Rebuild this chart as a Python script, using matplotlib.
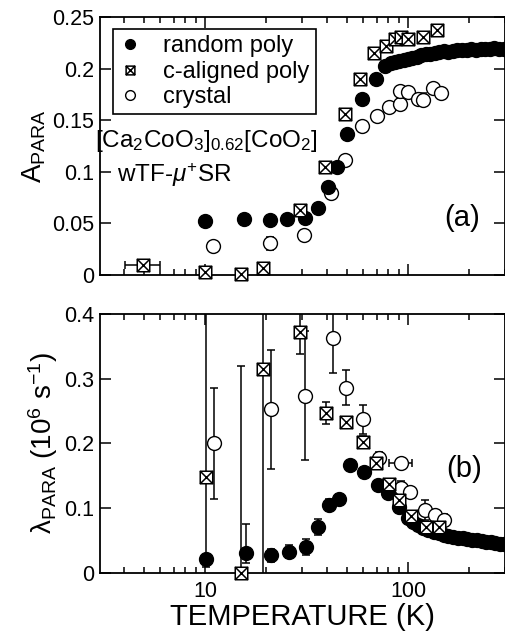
#!/usr/bin/env python3
"""A_PARA e lambda_PARA vs temperatura (wTF-muSR), dois painéis empilhados."""

import numpy as np
import matplotlib
matplotlib.use("Agg")
import matplotlib.pyplot as plt
from matplotlib.path import Path
from matplotlib.ticker import FixedLocator, NullFormatter, LogLocator

plt.rcParams["font.family"] = ["Liberation Sans", "DejaVu Sans"]
plt.rcParams["mathtext.fontset"] = "custom"
plt.rcParams["mathtext.rm"] = "Liberation Sans"
plt.rcParams["mathtext.it"] = "Liberation Sans:italic"
plt.rcParams["mathtext.bf"] = "Liberation Sans:bold"

# ---------------- painel (a): A_PARA ----------------
rp_T_a = [10.0, 15.6, 20.9, 25.4, 31.1, 35.9, 40.5, 44.5, 49.9, 59.1, 69.5, 77.0,
          82, 86, 90, 95, 100, 105, 110, 116, 122, 128, 135, 142, 150, 158, 166,
          175, 185, 195, 205, 216, 228, 240, 253, 266, 280, 295]
rp_A = [0.0526, 0.054, 0.053, 0.054, 0.055, 0.0646, 0.0856, 0.105, 0.137, 0.171, 0.190, 0.203,
        0.205, 0.206, 0.207, 0.208, 0.209, 0.210, 0.211, 0.213, 0.214, 0.214, 0.215, 0.216,
        0.217, 0.216, 0.217, 0.218, 0.218, 0.218, 0.219, 0.218, 0.219, 0.219, 0.219, 0.220,
        0.219, 0.219]

ca_T_a = [4.97, 10.0, 15.0, 19.2, 29.2, 39.1, 48.9, 58.0, 68.1, 77.5, 86.1, 92.0, 100.4, 119, 138.6]
ca_A = [0.0097, 0.0032, 0.001, 0.0065, 0.063, 0.105, 0.156, 0.190, 0.215, 0.222, 0.229, 0.231,
        0.229, 0.231, 0.237]
ca_xerr_lo_a = [0.93, 0.3, 0.3, 0.3, 0, 0, 0, 0, 0, 0, 0, 0, 0, 0, 0]
ca_xerr_hi_a = [1.03, 0.3, 0.3, 0.3, 0, 0, 0, 0, 0, 0, 0, 0, 0, 0, 0]

cr_T_a = [11.0, 20.9, 30.7, 41.6, 48.9, 59.1, 70.0, 80.6, 91.5, 91.0, 100.4, 112.5, 119, 133, 145.8]
cr_A = [0.028, 0.0307, 0.039, 0.079, 0.111, 0.144, 0.154, 0.1625, 0.166, 0.1786, 0.177, 0.171,
        0.170, 0.181, 0.176]
cr_xerr_a = [0.6, 0, 0, 0, 0, 0, 0, 0, 0, 0, 0, 6, 0, 0, 0]
cr_yerr_a = [0, 0.006, 0.003, 0, 0, 0, 0, 0, 0, 0, 0, 0, 0.006, 0, 0]

# ---------------- painel (b): lambda_PARA ----------------
rp_T_b = [10.1, 15.9, 21.2, 25.9, 31.5, 35.9, 40.9, 45.9, 51.8, 60.7, 70.7, 80.0, 89.8, 100.4,
          106, 112, 119, 126, 134, 142, 150, 158, 167, 176, 186, 196, 207, 218, 230, 242,
          255, 268, 282, 296]
rp_lam = [0.0207, 0.030, 0.027, 0.0325, 0.040, 0.071, 0.1047, 0.1135, 0.1665, 0.156, 0.1356,
          0.1227, 0.102, 0.084, 0.079, 0.074, 0.069, 0.066, 0.063, 0.061, 0.059, 0.057, 0.0557,
          0.054, 0.053, 0.052, 0.051, 0.050, 0.049, 0.048, 0.047, 0.046, 0.045, 0.044]
rp_yerr_lo_b = [0.012, 0.015, 0.010, 0.010, 0.012, 0.012, 0.010, 0.008, 0.006, 0.006, 0.005] + [0.004] * 23
rp_yerr_hi_b = [0.45, 0.046, 0.010, 0.010, 0.012, 0.012, 0.010, 0.008, 0.006, 0.006, 0.005] + [0.004] * 23

ca_T_b = [10.1, 15.1, 19.2, 29.3, 39.4, 49.4, 59.8, 69.5, 80.9, 89.8, 103.2, 123, 142]
ca_lam = [0.1485, 0.0, 0.3145, 0.3727, 0.2474, 0.2335, 0.2026, 0.169, 0.1367, 0.1124, 0.0877,
          0.070, 0.070]
ca_yerr_lo_b = [0.005, 0.0, 0.45, 0.034, 0.017, 0.006, 0.008, 0.006, 0.005, 0.005, 0.005, 0.005, 0.005]
ca_yerr_hi_b = [0.005, 0.319, 0.45, 0.034, 0.017, 0.006, 0.008, 0.006, 0.005, 0.005, 0.005, 0.005, 0.005]
ca_xerr_b = [0.5, 0, 0, 1.2, 0, 0, 0, 0, 0, 0, 0, 0, 0]

cr_T_b = [11.1, 21.2, 31.1, 42.9, 49.4, 59.8, 71.5, 92.5, 92.5, 101.6, 121, 136, 150]
cr_lam = [0.2, 0.2526, 0.2737, 0.3624, 0.286, 0.237, 0.177, 0.170, 0.1305, 0.125, 0.097, 0.089, 0.0815]
cr_yerr_b = [0.086, 0.092, 0.1, 0.053, 0.027, 0.022, 0.01, 0.0, 0.012, 0.0, 0.015, 0.0, 0.01]
cr_xerr_b = [0.6, 0, 0, 0, 0, 0, 0, 12, 0, 0, 0, 0, 0]

# marcador "quadrado com X"
_v = [(-1, -1), (1, -1), (1, 1), (-1, 1), (-1, -1),
      (-1, -1), (1, 1), (-1, 1), (1, -1)]
_c = [Path.MOVETO, Path.LINETO, Path.LINETO, Path.LINETO, Path.CLOSEPOLY,
      Path.MOVETO, Path.LINETO, Path.MOVETO, Path.LINETO]
boxx = Path(_v, _c)

W, H = 506, 635
fig = plt.figure(figsize=(W / 100, H / 100), dpi=100)
ax1 = fig.add_axes([100 / W, 1 - 275 / H, 405 / W, 258 / H])
ax2 = fig.add_axes([100 / W, 1 - 572.7 / H, 405 / W, 258.7 / H])

ebkw = dict(fmt="none", ecolor="black", elinewidth=1.1, capsize=3, capthick=1.1)
circ_f = dict(linestyle="none", marker="o", markersize=10, markerfacecolor="black",
              markeredgecolor="black", markeredgewidth=1.0)
circ_o = dict(linestyle="none", marker="o", markersize=10, markerfacecolor="white",
              markeredgecolor="black", markeredgewidth=1.0)
sq = dict(linestyle="none", marker=boxx, markersize=9, markerfacecolor="white",
          markeredgecolor="black", markeredgewidth=1.1)


def serie(ax, x, y, estilo, z, xerr=None, yerr=None):
    if xerr is not None or yerr is not None:
        ax.errorbar(x, y, xerr=xerr, yerr=yerr, zorder=z - 0.5, **ebkw)
    ax.plot(x, y, zorder=z, clip_on=False, **estilo)


# (a)
serie(ax1, cr_T_a, cr_A, circ_o, 2, xerr=cr_xerr_a, yerr=cr_yerr_a)
serie(ax1, rp_T_a, rp_A, circ_f, 3)
serie(ax1, ca_T_a, ca_A, sq, 4, xerr=[ca_xerr_lo_a, ca_xerr_hi_a])

# (b)
serie(ax2, cr_T_b, cr_lam, circ_o, 2, xerr=cr_xerr_b, yerr=cr_yerr_b)
serie(ax2, rp_T_b, rp_lam, circ_f, 3, yerr=[rp_yerr_lo_b, rp_yerr_hi_b])
serie(ax2, ca_T_b, ca_lam, sq, 4, xerr=ca_xerr_b, yerr=[ca_yerr_lo_b, ca_yerr_hi_b])

for ax in (ax1, ax2):
    ax.set_xscale("log")
    ax.set_xlim(3.04, 300)
    ax.xaxis.set_major_locator(FixedLocator([10, 100]))
    ax.xaxis.set_minor_locator(LogLocator(base=10, subs=np.arange(2, 10)))
    ax.xaxis.set_minor_formatter(NullFormatter())
    ax.tick_params(which="both", direction="in", top=True, right=True, width=1.1)
    ax.tick_params(which="major", length=8)
    ax.tick_params(which="minor", length=4)
    ax.tick_params(axis="y", labelsize=15.5, pad=4)
    ax.tick_params(axis="x", labelsize=15.5, pad=6)
    for s in ax.spines.values():
        s.set_linewidth(1.3)

ax1.set_ylim(0, 0.25)
ax1.set_yticks([0, 0.05, 0.1, 0.15, 0.2, 0.25])
ax1.set_yticklabels(["0", "0.05", "0.1", "0.15", "0.2", "0.25"])
ax1.xaxis.set_major_formatter(NullFormatter())
ax1.set_ylabel(r"A$_{\rm PARA}$", fontsize=20, labelpad=3)

ax2.set_ylim(0, 0.4)
ax2.set_yticks([0, 0.1, 0.2, 0.3, 0.4])
ax2.set_yticklabels(["0", "0.1", "0.2", "0.3", "0.4"])
ax2.set_xticklabels(["10", "100"])
ax2.set_ylabel(r"λ$_{\rm PARA}$ (10$^6$ s$^{-1}$)", fontsize=20, labelpad=3)
ax2.set_xlabel("TEMPERATURE (K)", fontsize=21, labelpad=1)

# legenda
h_rp, = ax1.plot([], [], **circ_f)
h_ca, = ax1.plot([], [], **sq)
h_cr, = ax1.plot([], [], **circ_o)
leg = ax1.legend([h_rp, h_ca, h_cr], ["random poly", "c-aligned poly", "crystal"],
                 loc="upper left", bbox_to_anchor=(0.031, 0.952), borderaxespad=0,
                 fontsize=17, markerscale=0.7, handlelength=1.0, handletextpad=0.9,
                 borderpad=0.25, labelspacing=0.15, fancybox=False, framealpha=1)
leg.get_frame().set_edgecolor("black")
leg.get_frame().set_linewidth(1.2)
leg.set_zorder(6)

ax1.text(-0.012, 0.519, r"[Ca$_2$CoO$_3$]$_{0.62}$[CoO$_2$]", transform=ax1.transAxes,
         ha="left", va="center", fontsize=17.5)
ax1.text(0.042, 0.388, r"wTF-$\mathit{\mu}^{+}$SR", transform=ax1.transAxes,
         ha="left", va="center", fontsize=17.5)
ax1.text(0.894, 0.221, "(a)", transform=ax1.transAxes, ha="center", va="center", fontsize=21)
ax2.text(0.899, 0.401, "(b)", transform=ax2.transAxes, ha="center", va="center", fontsize=21)

fig.savefig("out.png", dpi=100)
